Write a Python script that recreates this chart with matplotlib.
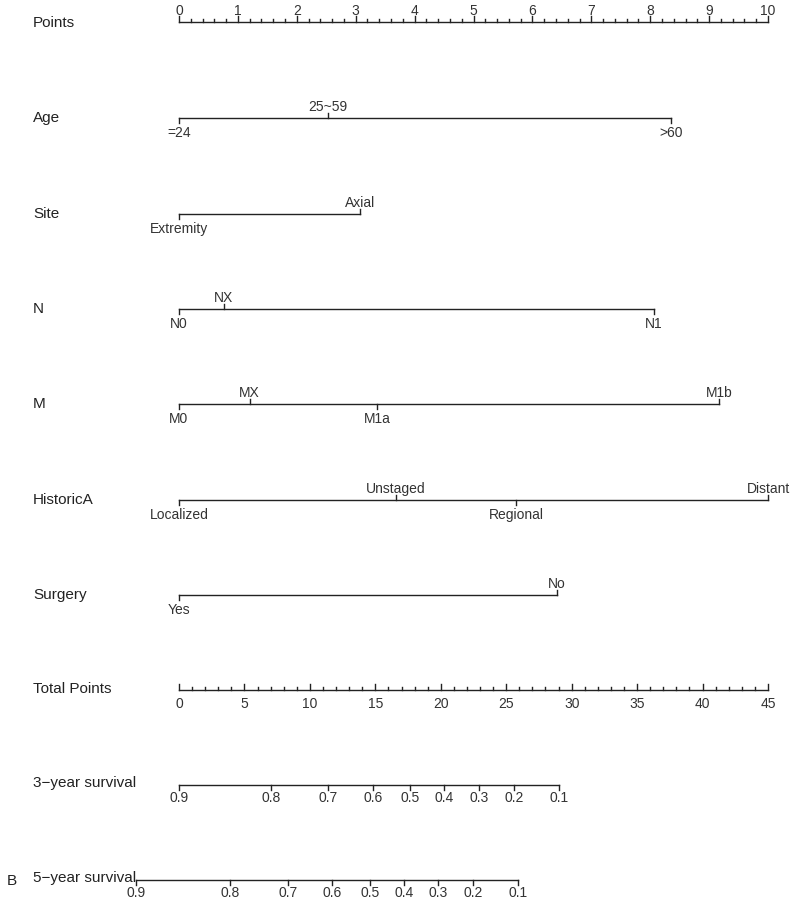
import matplotlib
matplotlib.use("Agg")
import matplotlib.pyplot as plt

plt.rcParams['font.family'] = ['Liberation Sans', 'DejaVu Sans']

# Points scale
points_ticks = list(range(0, 11))

# variables: level labels, points, label side (+1 above, -1 below)
age_levels = ["=24", "25~59", ">60"]
age_points = [0, 2.53, 8.35]
age_side = [-1, 1, -1]

site_levels = ["Extremity", "Axial"]
site_points = [0, 3.07]
site_side = [-1, 1]

n_levels = ["N0", "NX", "N1"]
n_points = [0, 0.76, 8.06]
n_side = [-1, 1, -1]

m_levels = ["M0", "MX", "M1a", "M1b"]
m_points = [0, 1.2, 3.36, 9.17]
m_side = [-1, 1, -1, 1]

hist_levels = ["Localized", "Unstaged", "Regional", "Distant"]
hist_points = [0, 3.68, 5.72, 10]
hist_side = [-1, 1, -1, 1]

surg_levels = ["Yes", "No"]
surg_points = [0, 6.42]
surg_side = [-1, 1]

# Total points scale
total_ticks = list(range(0, 46, 5))
total_max = 45

# survival scales (probability -> total points)
surv_labels = ["0.9", "0.8", "0.7", "0.6", "0.5", "0.4", "0.3", "0.2", "0.1"]
surv3_total = [0.0, 7.03, 11.38, 14.82, 17.65, 20.25, 22.92, 25.6, 29.03]
surv5_total = [-3.29, 3.9, 8.33, 11.69, 14.59, 17.19, 19.79, 22.46, 25.9]

W, H = 800, 902
x0_px, x10_px = 179, 768
ppu = (x10_px - x0_px) / 10.0

fig = plt.figure(figsize=(8, 9.02), dpi=100)
ax = fig.add_axes([0, 0, 1, 1])
ax.set_xlim(-x0_px / ppu, (W - x0_px) / ppu)
ax.set_ylim(H, 0)
ax.axis('off')

lc = '#222222'
tc = '#333333'
lw = 1.0
tk = 5  # tick length in px (y units are px)
label_fs = 11
tick_fs = 10
name_x = -146 / ppu


def name(txt, y):
    ax.text(name_x, y, txt, fontsize=label_fs, ha='left', va='center', color='#222222')


# Points axis
y = 22
name("Points", 23)
ax.plot([0, 10], [y, y], color=lc, lw=lw)
for i in range(0, 51):
    v = i * 0.2
    L = 6 if i % 5 == 0 else 3.5
    ax.plot([v, v], [y, y - L], color=lc, lw=lw)
for v in points_ticks:
    ax.text(v, y - 11, str(v), fontsize=tick_fs, ha='center', va='center', color=tc)

# variable axes
variables = [
    ("Age", 118, age_levels, age_points, age_side),
    ("Site", 214, site_levels, site_points, site_side),
    ("N", 309, n_levels, n_points, n_side),
    ("M", 404, m_levels, m_points, m_side),
    ("HistoricA", 500, hist_levels, hist_points, hist_side),
    ("Surgery", 595, surg_levels, surg_points, surg_side),
]
for vname, yv, levels, pts, sides in variables:
    name(vname, yv)
    ax.plot([min(pts), max(pts)], [yv, yv], color=lc, lw=lw)
    for lab, p, s in zip(levels, pts, sides):
        ax.plot([p, p], [yv, yv - s * tk], color=lc, lw=lw)
        off = -11 if s > 0 else 15
        ax.text(p, yv + off, lab, fontsize=tick_fs, ha='center', va='center', color=tc)

# Total points axis
y = 690
name("Total Points", 689)
ax.plot([0, 10], [y, y], color=lc, lw=lw)
for t in range(0, total_max + 1):
    L = 6 if t % 5 == 0 else 3.5
    ax.plot([t * 10 / total_max] * 2, [y, y - L], color=lc, lw=lw)
for t in total_ticks:
    ax.text(t * 10 / total_max, y + 14, str(t), fontsize=tick_fs, ha='center', va='center', color=tc)

# survival axes
for lab, yv, ny, totals in [("3\u2212year survival", 785, 783, surv3_total),
                            ("5\u2212year survival", 880, 878, surv5_total)]:
    name(lab, ny)
    xs = [t * 10 / total_max for t in totals]
    ax.plot([min(xs), max(xs)], [yv, yv], color=lc, lw=lw)
    for x, s in zip(xs, surv_labels):
        ax.plot([x, x], [yv, yv + 5], color=lc, lw=lw)
        ax.text(x, yv + 13, s, fontsize=tick_fs, ha='center', va='center', color=tc)

ax.text(-172 / ppu, 881, "B", fontsize=label_fs, ha='left', va='center', color='#222222')

fig.savefig("out.png", dpi=100)
